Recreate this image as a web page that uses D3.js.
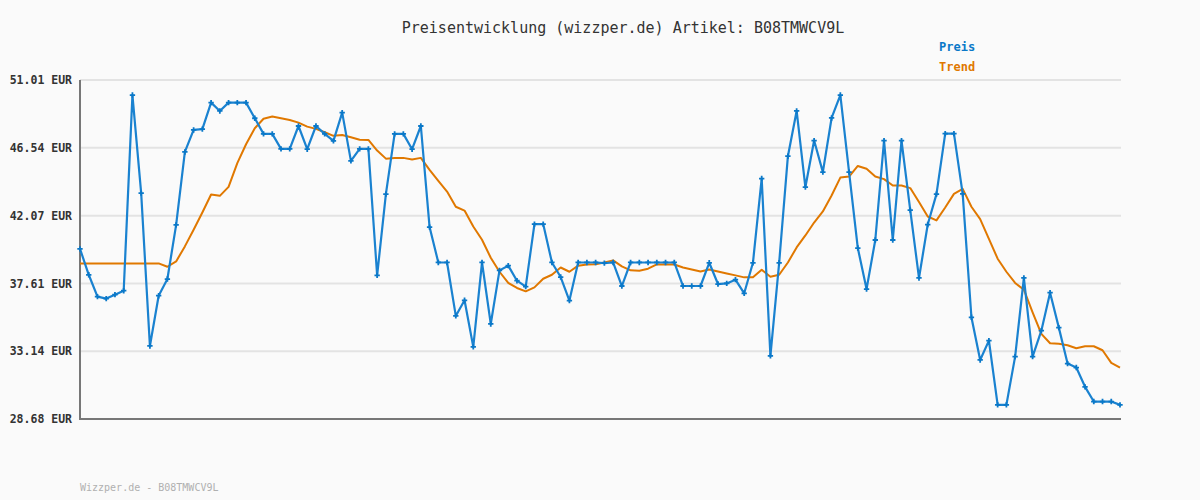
<!DOCTYPE html>
<html><head><meta charset="utf-8">
<script src="https://cdn.jsdelivr.net/npm/d3@7"></script>
<style>
html,body{margin:0;padding:0;background:#fafafa;}
svg{display:block;}
</style></head>
<body>
<svg id="chart" width="1200" height="500"></svg>
<script>
const title = "Preisentwicklung (wizzper.de) Artikel: B08TMWCV9L";
const footer = "Wizzper.de - B08TMWCV9L";
const seriesNames = ["Preis", "Trend"];
const yTicks = [28.68, 33.14, 37.61, 42.07, 46.54, 51.01];
const yTickLabels = ["28.68 EUR", "33.14 EUR", "37.61 EUR", "42.07 EUR", "46.54 EUR", "51.01 EUR"];

const preis = [
39.89,38.18,36.74,36.61,36.87,37.13,50.02,43.56,33.49,36.80,
37.90,41.47,46.27,47.72,47.77,49.52,48.97,49.52,49.52,49.52,
48.49,47.46,47.46,46.47,46.47,47.98,46.45,47.98,47.46,47.00,
48.86,45.68,46.47,46.47,38.14,43.49,47.46,47.46,46.45,47.98,
41.32,38.99,38.99,35.47,36.50,33.43,38.99,34.94,38.47,38.78,
37.79,37.40,41.52,41.52,38.99,38.03,36.48,38.99,38.99,38.99,
38.95,38.99,37.44,38.99,38.99,38.99,38.99,38.99,38.99,37.44,
37.44,37.44,38.97,37.57,37.61,37.86,36.96,38.97,44.52,32.84,
38.97,45.99,48.97,43.95,47.02,44.94,48.51,50.02,44.94,39.94,
37.24,40.47,47.02,40.47,47.02,42.44,37.97,41.49,43.49,47.48,
47.48,43.51,35.38,32.57,33.84,29.61,29.61,32.79,37.97,32.79,
34.50,37.00,34.70,32.33,32.07,30.80,29.83,29.83,29.83,29.61
];
const trend = [
38.93,38.93,38.93,38.93,38.93,38.93,38.93,38.93,38.93,38.93,
38.71,39.06,40.05,41.14,42.28,43.47,43.38,43.97,45.53,46.78,
47.83,48.46,48.60,48.49,48.38,48.20,47.94,47.79,47.57,47.33,
47.39,47.24,47.08,47.06,46.36,45.83,45.88,45.88,45.77,45.88,
45.09,44.37,43.66,42.66,42.41,41.36,40.49,39.30,38.38,37.64,
37.31,37.09,37.35,37.92,38.18,38.66,38.38,38.78,38.86,38.88,
38.99,39.13,38.73,38.47,38.45,38.58,38.86,38.86,38.86,38.66,
38.53,38.40,38.53,38.40,38.27,38.14,38.01,38.01,38.51,38.05,
38.18,38.99,39.98,40.77,41.62,42.35,43.40,44.58,44.65,45.35,
45.16,44.65,44.48,44.06,44.06,43.89,42.97,42.02,41.76,42.61,
43.51,43.84,42.66,41.85,40.55,39.24,38.38,37.64,37.20,35.71,
34.29,33.67,33.63,33.54,33.34,33.47,33.47,33.21,32.38,32.07
];

(function () {
const colors = {preis: "#0a78c8", trend: "#e07800"};
const svg = d3.select("#chart");
const mLeft = 80, mRight = 1120, mTop = 80, mBottom = 419;
const mono = "'DejaVu Sans Mono', 'Liberation Mono', monospace";

const x = d3.scaleLinear().domain([0, preis.length - 1]).range([mLeft, mRight]);
const y = d3.scaleLinear().domain([28.68, 51.01]).range([mBottom, mTop]);

svg.append("rect").attr("width", 1200).attr("height", 500).attr("fill", "#fafafa");

// gridlines
svg.append("g").selectAll("line").data(yTicks.slice(1)).join("line")
  .attr("x1", mLeft).attr("x2", mRight + 1)
  .attr("y1", d => y(d)).attr("y2", d => y(d))
  .attr("stroke", "#e3e3e3").attr("stroke-width", 2);

// y axis
const yAxis = d3.axisLeft(y).tickValues(yTicks).tickSize(0).tickPadding(8)
  .tickFormat((d, i) => yTickLabels[i]);
const gy = svg.append("g").attr("transform", `translate(${mLeft},0)`).call(yAxis);
gy.select(".domain").remove();
gy.selectAll("text").attr("font-family", mono).attr("font-size", "11.5px")
  .attr("font-weight", "bold").attr("fill", "#333");

// axis lines
svg.append("line").attr("x1", mLeft).attr("x2", mLeft).attr("y1", mTop).attr("y2", mBottom + 1)
  .attr("stroke", "#777").attr("stroke-width", 2);
svg.append("line").attr("x1", mLeft - 1).attr("x2", mRight + 1).attr("y1", mBottom).attr("y2", mBottom)
  .attr("stroke", "#777").attr("stroke-width", 2);

// lines
const line = d3.line().x((d, i) => x(i)).y(d => y(d));
svg.append("path").datum(trend).attr("d", line).attr("fill", "none")
  .attr("stroke", colors.trend).attr("stroke-width", 2).attr("stroke-linejoin", "round");
svg.append("path").datum(preis).attr("d", line).attr("fill", "none")
  .attr("stroke", "#1a82d0").attr("stroke-width", 2.2).attr("stroke-linejoin", "round");

// markers (plus signs)
const cross = d3.symbol().type(d3.symbolCross).size(16);
svg.append("g").selectAll("path").data(preis).join("path")
  .attr("d", cross)
  .attr("transform", (d, i) => `translate(${x(i)},${y(d)})`)
  .attr("fill", colors.preis);

// title
svg.append("text").attr("x", 623).attr("y", 33).attr("text-anchor", "middle")
  .attr("font-family", mono).attr("font-size", "15px").attr("fill", "#333").text(title);

// legend
svg.append("text").attr("x", 939).attr("y", 51).attr("font-family", mono)
  .attr("font-size", "12px").attr("font-weight", "bold").attr("fill", colors.preis).text(seriesNames[0]);
svg.append("text").attr("x", 939).attr("y", 71).attr("font-family", mono)
  .attr("font-size", "12px").attr("font-weight", "bold").attr("fill", colors.trend).text(seriesNames[1]);

// footer
svg.append("text").attr("x", 80).attr("y", 491).attr("font-family", mono)
  .attr("font-size", "10px").attr("fill", "#b0b0b0").text(footer);
})();
</script>
</body></html>
